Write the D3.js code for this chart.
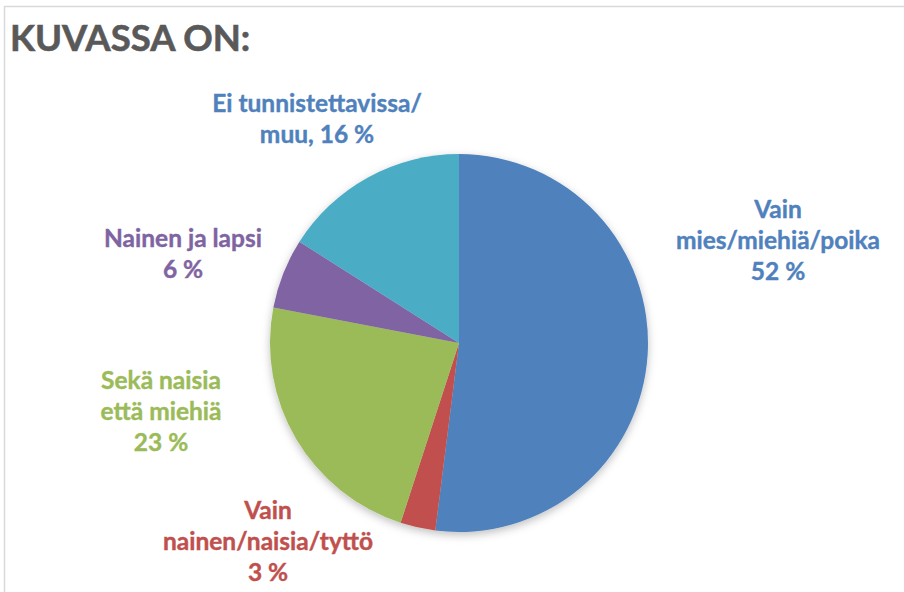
<!DOCTYPE html>
<html>
<head>
<meta charset="utf-8">
<script src="https://cdn.jsdelivr.net/npm/d3@7"></script>
<style>
  body { margin: 0; background: #fff; }
</style>
</head>
<body>
<div id="chart"></div>
<script>
// Data
const categories = ["Vain mies/miehiä/poika", "Vain nainen/naisia/tyttö", "Sekä naisia että miehiä", "Nainen ja lapsi", "Ei tunnistettavissa/muu"];
const values = [52, 3, 23, 6, 16];
const labelLines = [
    ["Vain", "mies/miehiä/poika", "52 %"],
    ["Vain", "nainen/naisia/tyttö", "3 %"],
    ["Sekä naisia", "että miehiä", "23 %"],
    ["Nainen ja lapsi", "6 %"],
    ["Ei tunnistettavissa/", "muu, 16 %"]
];
const colors = ["#4F81BD", "#C0504D", "#9BBB59", "#8064A2", "#4BACC6"];
const labelColors = ["#4F81BD", "#C0504D", "#9BBB59", "#8064A2", "#4F81BD"];

const width = 904, height = 592;
const cx = 459, cy = 343, radius = 189;

// label block offsets (top baseline, relative to pie centre)
const labelOffsets = [[319, -125], [-191, 176], [-298, 46], [-276, -96], [-142, -231]];

const svg = d3.select("#chart")
    .append("svg")
    .attr("width", width)
    .attr("height", height)
    .style("font-family", "Lato, 'Open Sans', sans-serif");

// frame
svg.append("path")
    .attr("d", `M4.5,${height} V6.5 H${width}`)
    .attr("fill", "none")
    .attr("stroke", "#d9d9d9")
    .attr("stroke-width", 1.5);

// title
svg.append("text")
    .attr("x", 10)
    .attr("y", 51)
    .style("font-size", "36.5px")
    .style("font-weight", "bold")
    .style("fill", "#595959")
    .style("stroke", "#595959")
    .style("stroke-width", 0.6)
    .text("KUVASSA ON:");

const defs = svg.append("defs");
const shadow = defs.append("filter")
    .attr("id", "pie-shadow")
    .attr("x", "-20%").attr("y", "-20%")
    .attr("width", "140%").attr("height", "140%");
shadow.append("feDropShadow")
    .attr("dx", 0).attr("dy", 3)
    .attr("stdDeviation", 4)
    .attr("flood-color", "#000")
    .attr("flood-opacity", 0.25);

const pie = d3.pie().sort(null).value(d => d)(values);
const arc = d3.arc().innerRadius(0).outerRadius(radius);

const g = svg.append("g")
    .attr("transform", `translate(${cx},${cy})`);

g.append("g")
    .attr("filter", "url(#pie-shadow)")
    .selectAll("path")
    .data(pie)
    .enter()
    .append("path")
    .attr("d", arc)
    .attr("fill", (d, i) => colors[i]);

// labels
const labels = g.selectAll(".label")
    .data(pie)
    .enter()
    .append("text")
    .attr("class", "label")
    .attr("text-anchor", "middle")
    .style("font-size", "24.5px")
    .style("font-weight", "bold")
    .style("fill", (d, i) => labelColors[i])
    .style("stroke", (d, i) => labelColors[i])
    .style("stroke-width", 0.4);

labels.each(function (d, i) {
    const [ox, oy] = labelOffsets[i];
    d3.select(this).selectAll("tspan")
        .data(labelLines[i])
        .enter()
        .append("tspan")
        .attr("x", ox)
        .attr("y", (t, j) => oy + j * 31)
        .text(t => t);
});
</script>
</body>
</html>
